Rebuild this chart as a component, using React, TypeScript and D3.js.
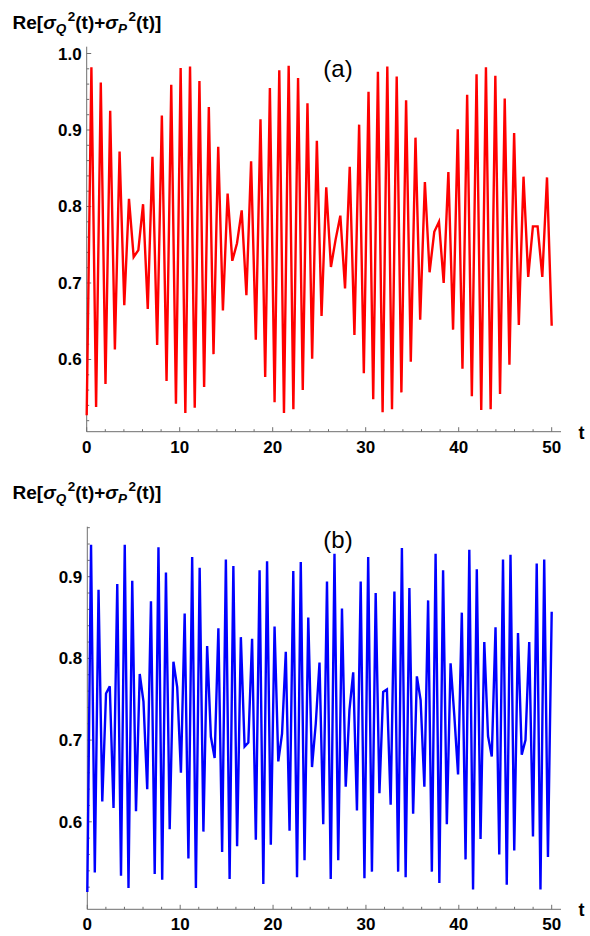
import React from "react";
import * as d3 from "d3";

// ---- data ----
const T_END = 50;
const xTickValues = [0, 10, 20, 30, 40, 50];
const yTicksA = [0.6, 0.7, 0.8, 0.9, 1.0];
const yTicksB = [0.6, 0.7, 0.8, 0.9];

// Panel (a): 100 samples uniformly over t in [0, 50]
const seriesA = [
  0.527, 0.982, 0.538, 0.962, 0.568, 0.925, 0.613, 0.872, 0.671, 0.810,
  0.734, 0.743, 0.803, 0.666, 0.865, 0.619, 0.919, 0.572, 0.959, 0.542,
  0.981, 0.530, 0.983, 0.537, 0.964, 0.564, 0.930, 0.607, 0.878, 0.664,
  0.817, 0.729, 0.752, 0.795, 0.684, 0.859, 0.626, 0.914, 0.577, 0.955,
  0.544, 0.978, 0.530, 0.984, 0.535, 0.968, 0.560, 0.935, 0.601, 0.886,
  0.657, 0.825, 0.721, 0.757, 0.788, 0.693, 0.852, 0.632, 0.907, 0.582,
  0.950, 0.548, 0.976, 0.531, 0.983, 0.535, 0.970, 0.557, 0.939, 0.597,
  0.890, 0.652, 0.832, 0.714, 0.767, 0.780, 0.700, 0.845, 0.639, 0.901,
  0.588, 0.946, 0.552, 0.973, 0.534, 0.982, 0.535, 0.971, 0.555, 0.941,
  0.593, 0.896, 0.645, 0.839, 0.708, 0.774, 0.774, 0.708, 0.838, 0.644,
];

// Panel (b): 125 samples uniformly over t in [0, 50]
const seriesB = [
  0.514, 0.939, 0.538, 0.884, 0.625, 0.757, 0.766, 0.617, 0.891, 0.534,
  0.939, 0.519, 0.895, 0.613, 0.781, 0.747, 0.640, 0.870, 0.536, 0.936,
  0.529, 0.905, 0.591, 0.796, 0.765, 0.660, 0.855, 0.555, 0.924, 0.519,
  0.911, 0.588, 0.815, 0.704, 0.678, 0.837, 0.563, 0.921, 0.530, 0.913,
  0.570, 0.826, 0.692, 0.697, 0.824, 0.578, 0.908, 0.524, 0.919, 0.572,
  0.839, 0.674, 0.708, 0.808, 0.589, 0.907, 0.532, 0.918, 0.553, 0.850,
  0.667, 0.720, 0.795, 0.597, 0.894, 0.530, 0.928, 0.553, 0.861, 0.643,
  0.737, 0.783, 0.614, 0.894, 0.531, 0.924, 0.539, 0.880, 0.635, 0.759,
  0.762, 0.621, 0.882, 0.539, 0.935, 0.532, 0.886, 0.610, 0.778, 0.749,
  0.643, 0.871, 0.539, 0.928, 0.525, 0.908, 0.597, 0.794, 0.730, 0.658,
  0.856, 0.554, 0.933, 0.517, 0.909, 0.579, 0.820, 0.705, 0.680, 0.838,
  0.560, 0.921, 0.523, 0.927, 0.565, 0.831, 0.682, 0.700, 0.820, 0.582,
  0.916, 0.517, 0.921, 0.557, 0.857,
];

const FONT = "'Liberation Sans', Arial, Helvetica, sans-serif";
const AXIS_COLOR = "#6e6e6e";

type PanelProps = {
  values: number[];
  color: string;
  yDomain: [number, number];
  yRange: [number, number];
  yTicks: number[];
  xRange: [number, number];
  tag: string;
  tagY: number;
  labelY: number;
  xLabelBaseline: number;
};

function YLabel({ x, y }: { x: number; y: number }) {
  return (
    <text x={x} y={y} fontFamily={FONT} fontWeight="bold" fontSize={19} fill="#000">
      <tspan>Re[</tspan>
      <tspan fontStyle="italic">σ</tspan>
      <tspan fontStyle="italic" fontSize={13.5} dy={4}>Q</tspan>
      <tspan fontSize={13.5} dy={-11.5} dx={1.5}>2</tspan>
      <tspan dy={7.5}>(t)+</tspan>
      <tspan fontStyle="italic">σ</tspan>
      <tspan fontStyle="italic" fontSize={13.5} dy={4}>P</tspan>
      <tspan fontSize={13.5} dy={-11.5} dx={1.5}>2</tspan>
      <tspan dy={7.5}>(t)]</tspan>
    </text>
  );
}

function Panel(p: PanelProps) {
  const n = p.values.length;
  const idxToT = d3.scaleLinear().domain([0, n - 1]).range([0, T_END]);
  const x = d3.scaleLinear().domain([0, T_END]).range(p.xRange);
  const y = d3.scaleLinear().domain(p.yDomain).range(p.yRange);
  const line = d3
    .line<number>()
    .x((_, i) => x(idxToT(i)))
    .y((d) => y(d));

  const x0 = p.xRange[0];
  const yAxisY = p.yRange[0];
  const xAxisEnd = x(51);
  const xMinor = d3.range(0, 51, 2).filter((t) => t % 10 !== 0);
  const yMinor = d3
    .range(Math.ceil(p.yDomain[0] * 50), Math.floor(p.yDomain[1] * 50) + 1)
    .map((k) => k / 50)
    .filter((v) => Math.abs(v * 10 - Math.round(v * 10)) > 1e-6);

  return (
    <g>
      <YLabel x={12.5} y={p.labelY} />
      <line x1={x0} x2={xAxisEnd} y1={yAxisY} y2={yAxisY} stroke={AXIS_COLOR} strokeWidth={1} />
      <line x1={x0} x2={x0} y1={p.yRange[0]} y2={p.yRange[1]} stroke={AXIS_COLOR} strokeWidth={1} />
      {xTickValues.map((t) => (
        <g key={"xt" + t}>
          <line x1={x(t)} x2={x(t)} y1={yAxisY} y2={yAxisY - 4.5} stroke={AXIS_COLOR} strokeWidth={1} />
          <text
            x={x(t)}
            y={p.xLabelBaseline}
            textAnchor="middle"
            fontFamily={FONT}
            fontWeight="bold"
            fontSize={17}
            fill="#000"
          >
            {t}
          </text>
        </g>
      ))}
      {xMinor.map((t) => (
        <line key={"xm" + t} x1={x(t)} x2={x(t)} y1={yAxisY} y2={yAxisY - 2.5} stroke={AXIS_COLOR} strokeWidth={1} />
      ))}
      {p.yTicks.map((v) => (
        <g key={"yt" + v}>
          <line x1={x0} x2={x0 + 4.5} y1={y(v)} y2={y(v)} stroke={AXIS_COLOR} strokeWidth={1} />
          <text
            x={x0 - 5}
            y={y(v) + 6}
            textAnchor="end"
            fontFamily={FONT}
            fontWeight="bold"
            fontSize={17}
            fill="#000"
          >
            {v.toFixed(1)}
          </text>
        </g>
      ))}
      {yMinor.map((v) => (
        <line key={"ym" + v} x1={x0} x2={x0 + 2.5} y1={y(v)} y2={y(v)} stroke={AXIS_COLOR} strokeWidth={1} />
      ))}
      <text
        x={581.5}
        y={p.xLabelBaseline - 14}
        textAnchor="middle"
        fontFamily={FONT}
        fontWeight="bold"
        fontSize={18}
        fill="#000"
      >
        t
      </text>
      <text x={338} y={p.tagY} textAnchor="middle" fontFamily={FONT} fontSize={24} fill="#000">
        {p.tag}
      </text>
      <path d={line(p.values) || ""} fill="none" stroke={p.color} strokeWidth={2.4} />
    </g>
  );
}

export default function App() {
  return (
    <svg
      width={590}
      height={936}
      viewBox="0 0 590 936"
      style={{ position: "absolute", left: 0, top: 0, background: "#fff" }}
    >
      <rect x={0} y={0} width={590} height={936} fill="#fff" />
      <Panel
        values={seriesA}
        color="#ff0000"
        yDomain={[0.5056, 1.0089]}
        yRange={[431.7, 46.7]}
        yTicks={yTicksA}
        xRange={[86.7, 551.7]}
        tag="(a)"
        tagY={77}
        labelY={28.5}
        xLabelBaseline={453}
      />
      <Panel
        values={seriesB}
        color="#0000ff"
        yDomain={[0.4929, 0.9612]}
        yRange={[909.3, 526.7]}
        yTicks={yTicksB}
        xRange={[87.3, 551.7]}
        tag="(b)"
        tagY={548}
        labelY={498.5}
        xLabelBaseline={930}
      />
    </svg>
  );
}
